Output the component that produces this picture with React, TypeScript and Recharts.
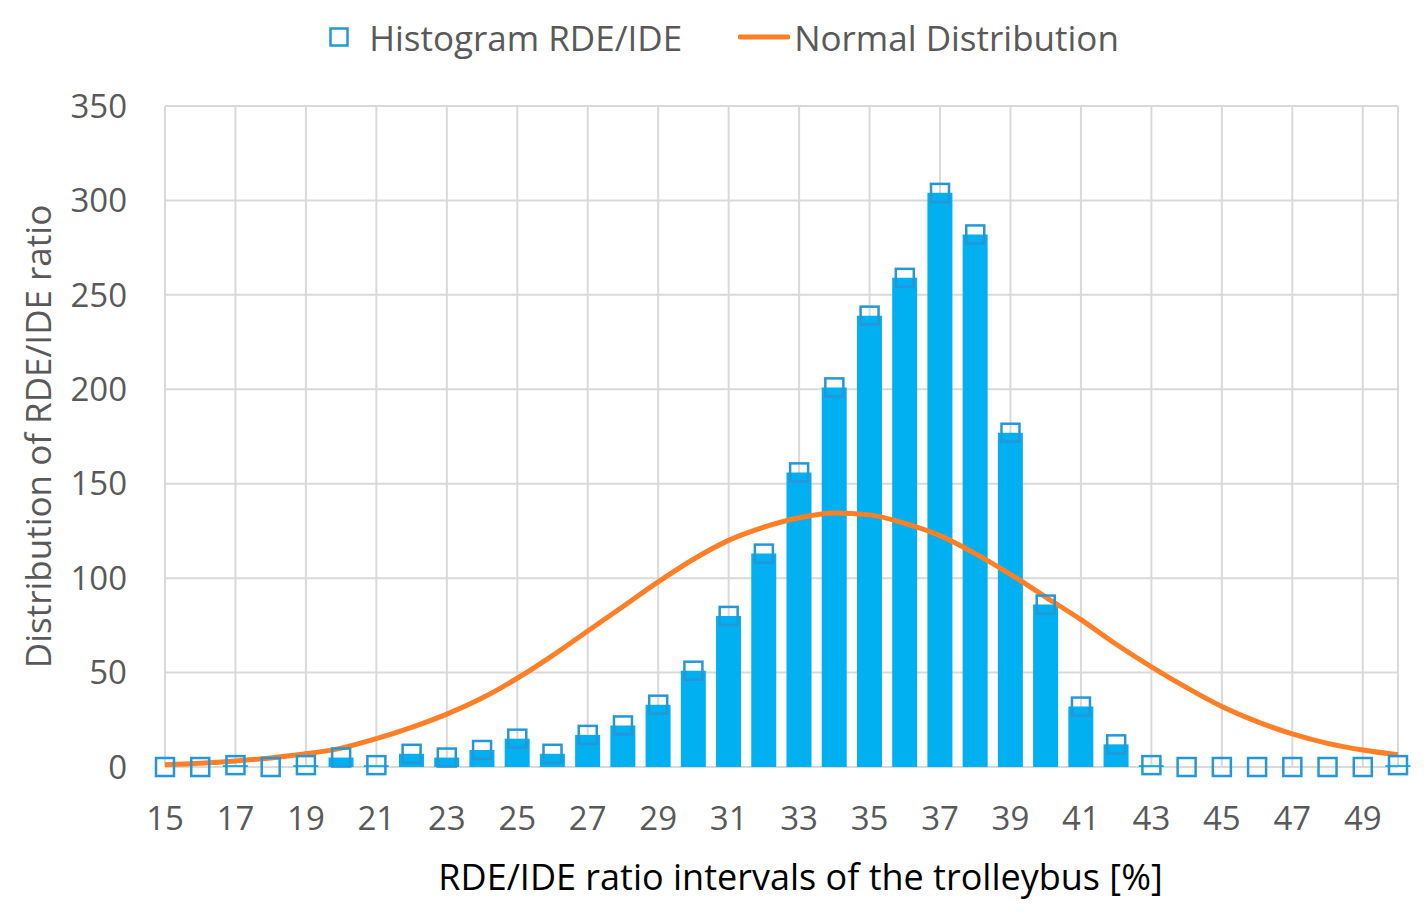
import React from "react";
import {
  Bar,
  CartesianGrid,
  ComposedChart,
  Legend,
  Line,
  XAxis,
  YAxis,
} from "recharts";

// RDE/IDE ratio interval [%]
const INTERVALS = [
  15, 16, 17, 18, 19, 20, 21, 22, 23, 24, 25, 26, 27, 28, 29, 30, 31, 32, 33,
  34, 35, 36, 37, 38, 39, 40, 41, 42, 43, 44, 45, 46, 47, 48, 49, 50,
];

// histogram counts
const HISTOGRAM = [
  0, 0, 1, 0, 1, 5, 1, 7, 5, 9, 15, 7, 17, 22, 33, 51, 80, 113, 156, 201, 239,
  259, 304, 282, 177, 86, 32, 12, 1, 0, 0, 0, 0, 0, 0, 1,
];

// fitted normal curve
const NORMAL = [
  1.2, 2, 3.2, 4.8, 7, 10, 15, 21, 28, 36.5, 47, 59, 72, 85, 98, 110, 120, 127,
  132, 134.5, 133.5, 129, 122.5, 113, 102, 90, 78, 65, 53, 42, 32, 24, 17.5,
  12.5, 9, 6.5,
];

const X_TICKS = [
  15, 17, 19, 21, 23, 25, 27, 29, 31, 33, 35, 37, 39, 41, 43, 45, 47, 49,
];
const Y_TICKS = [0, 50, 100, 150, 200, 250, 300, 350];

const data = INTERVALS.map((x, i) => ({
  x,
  hist: HISTOGRAM[i],
  normal: NORMAL[i],
}));

const BAR_BLUE = "#00B0F0";
const MARKER_BLUE = "#2597D8";
const ORANGE = "#FF7F27";
const GREY_TEXT = "#595959";

const SquareDot = (props: any) => {
  const { cx, cy, index } = props;
  if (cx == null || cy == null) return null;
  return (
    <rect
      key={"sq-" + index}
      x={cx - 9}
      y={cy - 9}
      width={18}
      height={18}
      fill="none"
      stroke={MARKER_BLUE}
      strokeWidth={2.5}
    />
  );
};

const LegendContent = () => (
  <div
    style={{
      display: "flex",
      justifyContent: "center",
      alignItems: "center",
      height: 74,
      paddingLeft: 20,
      fontSize: 35,
      color: GREY_TEXT,
      fontFamily: "'Open Sans', sans-serif",
    }}
  >
    <svg width={20} height={20} style={{ marginRight: 20 }}>
      <rect x={1.5} y={1.5} width={17} height={17} fill="none" stroke={MARKER_BLUE} strokeWidth={2.5} />
    </svg>
    <span>Histogram RDE/IDE</span>
    <svg width={52} height={8} style={{ marginLeft: 56, marginRight: 4 }}>
      <line x1={2} y1={4} x2={50} y2={4} stroke={ORANGE} strokeWidth={5} strokeLinecap="round" />
    </svg>
    <span>Normal Distribution</span>
  </div>
);

export default function App() {
  return (
    <div style={{ position: "absolute", left: 0, top: 0 }}>
      <ComposedChart
        width={1428}
        height={912}
        data={data}
        margin={{ top: 32, right: 30, left: 0, bottom: 0 }}
        style={{ fontFamily: "'Open Sans', sans-serif" }}
      >
        <CartesianGrid stroke="#D9D9D9" strokeWidth={2} />
        <XAxis
          dataKey="x"
          type="number"
          domain={[15, 50]}
          ticks={X_TICKS}
          interval={0}
          height={145}
          axisLine={false}
          tickLine={false}
          tickSize={0}
          tickMargin={40}
          tick={{ fill: GREY_TEXT, fontSize: 33 }}
          label={{
            value: "RDE/IDE ratio intervals of the trolleybus [%]",
            position: "insideBottom",
            offset: 22,
            dx: 19,
            fill: "#000000",
            fontSize: 36,
          }}
        />
        <YAxis
          type="number"
          domain={[0, 350]}
          ticks={Y_TICKS}
          width={165}
          axisLine={false}
          tickLine={false}
          tickSize={0}
          tickMargin={38}
          tick={{ fill: GREY_TEXT, fontSize: 33 }}
          label={{
            value: "Distribution of RDE/IDE ratio",
            angle: -90,
            position: "center",
            dx: -44,
            fill: GREY_TEXT,
            fontSize: 35,
          }}
        />
        <Legend verticalAlign="top" content={<LegendContent />} wrapperStyle={{ left: 0, top: 0, width: 1428 }} />
        <Bar dataKey="hist" fill={BAR_BLUE} barSize={25} legendType="none" isAnimationActive={false} />
        <Line
          dataKey="hist"
          name="Histogram RDE/IDE"
          stroke="none"
          dot={SquareDot}
          activeDot={false}
          isAnimationActive={false}
        />
        <Line
          dataKey="normal"
          name="Normal Distribution"
          type="monotone"
          stroke={ORANGE}
          strokeWidth={5}
          dot={false}
          activeDot={false}
          isAnimationActive={false}
        />
      </ComposedChart>
    </div>
  );
}
